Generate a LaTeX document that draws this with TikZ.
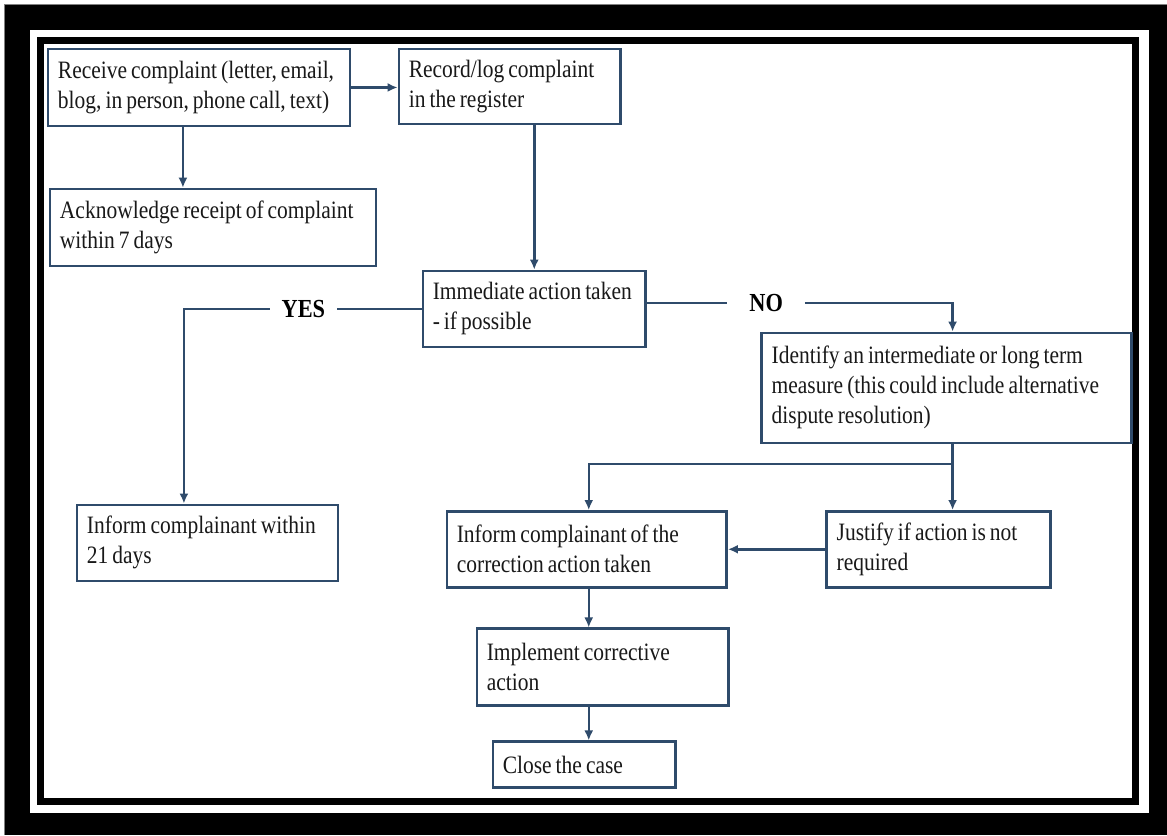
\documentclass[tikz,border=0pt]{standalone}
\usepackage{fontspec}
\usetikzlibrary{arrows.meta}
\newfontfamily\boxfont[FakeStretch=0.86]{Liberation Serif}
\definecolor{boxc}{RGB}{47,75,107}
\tikzset{
	box/.style={draw=boxc, line width=2.5pt, align=left, inner xsep=10pt, inner ysep=0pt, text=black!90, font=\boxfont\fontsize{25}{30}\selectfont, execute at begin node={\spaceskip=0.16em plus 0.05em\relax}},
	answer/.style={inner xsep=0pt, inner ysep=0pt, font=\boxfont\bfseries\fontsize{26}{30}\selectfont},
	line/.style={draw=boxc, line width=2.5pt},
	arrow/.style={line, -{Latex[length=10pt,width=9pt]}}
}
\begin{document}
\begin{tikzpicture}[x=1pt,y=-1pt]
	\fill[white] (0,0) rectangle (1167,835);
	\fill[black] (5,5) rectangle (1167,835);
	\draw[gray, line width=1pt] (5,835) -- (5,5) -- (1167,5);
	\fill[white] (30,30) rectangle (1149,813);
	\draw[black, line width=7pt] (40.5,40.5) rectangle (1135.5,801.5);
	\node[box, text width=282pt, minimum height=77pt] (recv) at (199,87.5) {Receive complaint (letter, email,\\blog, in person, phone call, text)};
	\node[box, text width=202pt, minimum height=75pt] (record) at (510,86.5) {Record/log complaint\\in the register};
	\node[box, text width=306pt, minimum height=77pt] (ack) at (213,227.5) {Acknowledge receipt of complaint\\within 7 days};
	\node[box, text width=203pt, minimum height=76pt] (immed) at (534.5,309) {Immediate action taken\\- if possible};
	\node[box, text width=350pt, minimum height=110pt] (measure) at (947,388) {Identify an intermediate or long term\\measure (this could include alternative\\dispute resolution)};
	\node[box, text width=241pt, minimum height=76pt] (inform21) at (207.5,543) {Inform complainant within\\21 days};
	\node[box, text width=260pt, minimum height=76pt] (inform) at (587,549.5) {Inform complainant of the\\correction action taken};
	\node[box, text width=204pt, minimum height=76pt] (justify) at (939,549.5) {Justify if action is not\\required};
	\node[box, text width=232pt, minimum height=77pt] (implement) at (603,667.5) {Implement corrective\\action};
	\node[box, text width=163pt, minimum height=46pt] (close) at (584.5,765) {Close the case};
	\node[answer, minimum width=67pt] (yes) at (303.5,309) {YES};
	\node[answer, minimum width=77pt] (no) at (766.5,303) {NO};
	\coordinate (split) at (953,464);
	\draw[arrow] (recv.east) -- (recv.east -| record.west);
	\draw[arrow] ([xshift=-16pt]recv.south) -- ([xshift=-16pt]recv.south |- ack.north);
	\draw[arrow] (record.south -| immed.north) -- (immed.north);
	\draw[line] (immed.west) -- (yes.east);
	\draw[arrow] (yes.west) -| ([xshift=-23.5pt]inform21.north);
	\draw[line] (immed.east |- no.west) -- (no.west);
	\draw[arrow] (no.east) -| ([xshift=6pt]measure.north);
	\draw[arrow] ([xshift=6pt]measure.south) -- ([xshift=6pt]measure.south |- justify.north);
	\draw[arrow] (split) -| ([xshift=2pt]inform.north);
	\draw[arrow] (justify.west) -- (inform.east);
	\draw[arrow] ([xshift=2pt]inform.south) -- ([xshift=2pt]inform.south |- implement.north);
	\draw[arrow] ([xshift=2pt]inform.south |- implement.south) -- ([xshift=2pt]inform.south |- close.north);
\end{tikzpicture}
\end{document}
